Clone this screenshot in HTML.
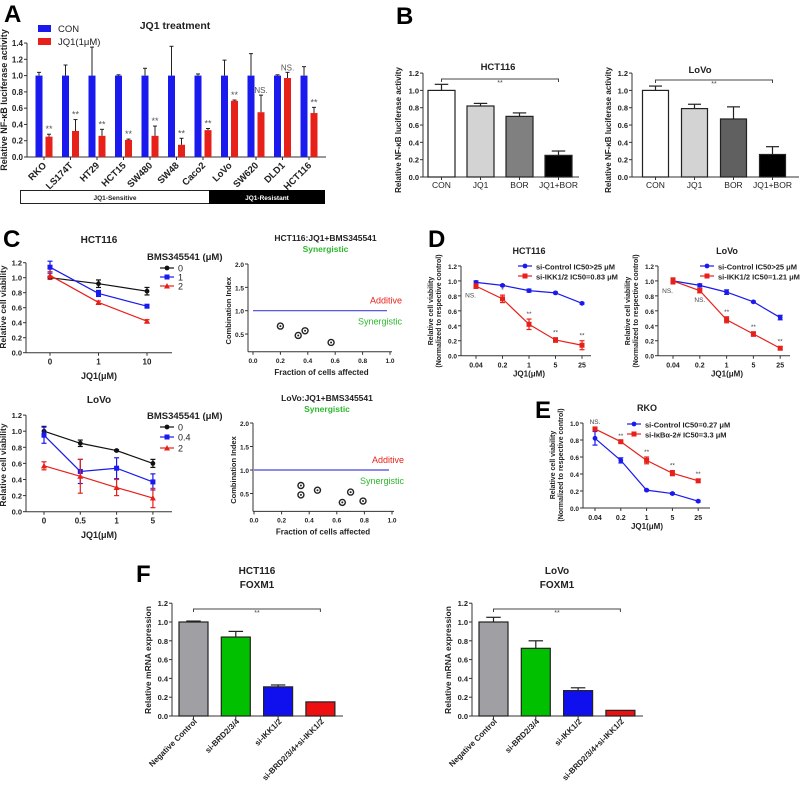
<!DOCTYPE html>
<html><head><meta charset="utf-8"><style>
html,body{margin:0;padding:0;background:#fff}
svg{display:block;font-family:"Liberation Sans",Arial,sans-serif}
</style></head><body>
<svg id="fig" width="800" height="791" viewBox="0 0 800 791" xmlns="http://www.w3.org/2000/svg"></svg>
<script>
// ---------- data ----------
const A_cats=["RKO","LS174T","HT29","HCT15","SW480","SW48","Caco2","LoVo","SW620","DLD1","HCT116"];
const A_con=[1,1,1,1,1,1,1,1,1,1,1];
const A_conErr=[0.04,0.13,0.35,0.01,0.09,0.36,0.02,0.19,0.27,0.01,0.11];
const A_jq1=[0.25,0.32,0.26,0.21,0.26,0.15,0.33,0.69,0.55,0.97,0.54];
const A_jq1Err=[0.03,0.14,0.08,0.01,0.12,0.08,0.02,0.01,0.21,0.07,0.07];
const A_sig=["**","**","**","**","**","**","**","**","NS.","NS.","**"];
const B_cats=["CON","JQ1","BOR","JQ1+BOR"];
const B_hct=[1.0,0.82,0.70,0.25];
const B_hctErr=[0.07,0.03,0.04,0.05];
const B_lovo=[1.0,0.79,0.67,0.26];
const B_lovoErr=[0.05,0.05,0.14,0.09];
const C1_x=["0","1","10"];
const C1_s0=[1.0,0.92,0.82], C1_e0=[0.02,0.05,0.05];
const C1_s1=[1.14,0.79,0.62], C1_e1=[0.08,0.04,0.01];
const C1_s2=[1.03,0.67,0.42], C1_e2=[0.05,0.02,0.02];
const C2_x=["0","0.5","1","5"];
const C2_s0=[1.0,0.85,0.76,0.60], C2_e0=[0.06,0.04,0.01,0.05];
const C2_s1=[0.95,0.50,0.54,0.37], C2_e1=[0.10,0.15,0.13,0.10];
const C2_s2=[0.57,0.44,0.30,0.17], C2_e2=[0.05,0.21,0.10,0.12];
const CI1_fa=[0.20,0.33,0.38,0.57], CI1_ci=[0.67,0.47,0.57,0.32];
const CI2_fa=[0.34,0.34,0.46,0.64,0.70,0.79], CI2_ci=[0.67,0.47,0.57,0.31,0.53,0.34];
const D_x=["0.04","0.2","1","5","25"];
const D1_ctrl=[0.98,0.94,0.87,0.84,0.70], D1_ctrlE=[0.02,0.01,0.02,0.01,0.01];
const D1_ikk=[0.93,0.76,0.42,0.21,0.14], D1_ikkE=[0.03,0.05,0.07,0.03,0.06];
const D1_sig=["NS.","*","**","**","**"];
const D2_ctrl=[1.0,0.94,0.85,0.72,0.51], D2_ctrlE=[0.03,0.02,0.03,0.01,0.03];
const D2_ikk=[1.0,0.87,0.48,0.29,0.10], D2_ikkE=[0.04,0.03,0.04,0.03,0.02];
const D2_sig=["NS.","NS.","**","**","**"];
const E_ctrl=[0.82,0.56,0.21,0.17,0.08], E_ctrlE=[0.08,0.03,0.01,0.01,0.01];
const E_ikb=[0.93,0.78,0.56,0.41,0.32], E_ikbE=[0.02,0.01,0.04,0.03,0.02];
const E_sig=["NS.","**","**","**","**"];
const F_cats=["Negative Control","si-BRD2/3/4","si-IKK1/2","si-BRD2/3/4+si-IKK1/2"];
const F_hct=[1.0,0.84,0.31,0.15], F_hctErr=[0.01,0.06,0.02,0.0];
const F_lovo=[1.0,0.72,0.27,0.06], F_lovoErr=[0.05,0.08,0.03,0.0];

// ---------- helpers ----------
const NS="http://www.w3.org/2000/svg";
const svg=document.getElementById('fig');
function mk(tag,a,p){const e=document.createElementNS(NS,tag);for(const k in a)e.setAttribute(k,a[k]);(p||svg).appendChild(e);return e;}
function tx(x,y,s,a){const e=mk('text',Object.assign({x:x,y:y,'font-size':9,fill:'#222'},a||{}));e.textContent=s;return e;}
function ln(x1,y1,x2,y2,c,w){return mk('line',{x1:x1,y1:y1,x2:x2,y2:y2,stroke:c||'#333','stroke-width':w||1});}
function fmt(v){return v.toFixed(1);}
function yAxis(x,y0,ppu,max,step,name,fs){
  const g=mk('g',{});
  
  
  g.appendChild(ln(x,y0,x,y0-max*ppu));
  for(let v=0;v<=max+1e-9;v+=step){
    const y=y0-v*ppu;
    g.appendChild(ln(x-3,y,x,y));
    g.appendChild(tx(x-4,y+3,fmt(v),{'text-anchor':'end','font-size':fs||7.5,'font-weight':'bold'}));
  }
  return g;
}
function title(x,y,s,name,a){const t=tx(x,y,s,Object.assign({'text-anchor':'middle','font-size':10,'font-weight':'bold'},a||{}));return t;}
function vlabel(x,y,s,name,fs){const t=tx(x,y,s,{'text-anchor':'middle','font-size':fs||9,'font-weight':'bold',transform:'rotate(-90 '+x+' '+y+')'});return t;}
function panelLetter(x,y,s){const t=tx(x,y,s,{'font-size':24,'font-weight':'bold',fill:'#000'});}

// ---------- Panel A ----------
panelLetter(4,22,"A");
(function(){
  const ax=27,y0=157,ppu=81.4;
  const ys=v=>y0-v*ppu, xs=i=>39+i*26.5;
  yAxis(ax,y0,ppu,1.4,0.2,'a-y-axis',8);
  ln(ax,y0,326,y0);
  vlabel(7,100,"Relative NF-κB luciferase activity",'a-y-axis-title',9);
  title(175,29,"JQ1 treatment",'a-title',{'font-size':10.5});
  A_cats.forEach((c,i)=>{
    const cx=xs(i);
    const b=mk('rect',{x:cx-3.5,y:ys(A_con[i]),width:7,height:y0-ys(A_con[i]),fill:'#1a1aee'});
    
    
    ln(cx,ys(A_con[i]),cx,ys(A_con[i]+A_conErr[i]),'#222');ln(cx-2,ys(A_con[i]+A_conErr[i]),cx+2,ys(A_con[i]+A_conErr[i]),'#222');
    const rx=cx+10;
    const r=mk('rect',{x:rx-3.5,y:ys(A_jq1[i]),width:7,height:y0-ys(A_jq1[i]),fill:'#e8201a'});
    
    
    const top=ys(A_jq1[i]+A_jq1Err[i]);
    ln(rx,ys(A_jq1[i]),rx,top,'#222');ln(rx-2,top,rx+2,top,'#222');
    tx(rx,top-2,A_sig[i],{'text-anchor':'middle','font-size':A_sig[i]=="**"?9:8,fill:'#555'});
    ln(cx+5,y0,cx+5,y0+3);
    const l=tx(cx+8,y0+9,c,{'text-anchor':'end','font-size':9.5,'font-weight':'bold',transform:'rotate(-45 '+(cx+8)+' '+(y0+9)+')'});
    
    
  });
  const lg1=mk('rect',{x:38,y:25,width:13,height:7,fill:'#1a1aee'});
  
  tx(58,32,"CON",{'font-size':9.5});
  const lg2=mk('rect',{x:38,y:38,width:13,height:7,fill:'#e8201a'});
  
  tx(58,45,"JQ1(1μM)",{'font-size':9.5});
  const s=mk('rect',{x:20.5,y:190.5,width:189,height:13,fill:'#fff',stroke:'#222'});
  
  tx(115,200,"JQ1-Sensitive",{'text-anchor':'middle','font-size':6.5,'font-weight':'bold'});
  const rr=mk('rect',{x:209.5,y:190.5,width:115,height:13,fill:'#000',stroke:'#000'});
  
  tx(267,200,"JQ1-Resistant",{'text-anchor':'middle','font-size':6.5,'font-weight':'bold',fill:'#fff'});
})();

// ---------- Panel B ----------
panelLetter(396,24,"B");
function barPanel(ax,axEnd,y0,ppu,x0,step,w,vals,errs,cats,fills,name,bracket,labFs,rotate,labY){
  yAxis(ax,y0,ppu,1.2,0.2,name+'-y-axis',7.5);
  ln(ax,y0,axEnd,y0);
  vals.forEach((v,i)=>{
    const cx=x0+i*step, y=y0-v*ppu;
    const b=mk('rect',{x:cx-w/2,y:y,width:w,height:y0-y,fill:fills[i],stroke:'#222','stroke-width':1.2});
    
    
    const t=y0-(v+errs[i])*ppu;
    if(errs[i]>0){ln(cx,y,cx,t,'#222',1.2);ln(cx-w/4,t,cx+w/4,t,'#222',1.2);}
    ln(cx,y0,cx,y0+3);
    let l;
    if(rotate){l=tx(cx+4,labY,cats[i],{'text-anchor':'end','font-size':labFs,'font-weight':'bold',transform:'rotate(-45 '+(cx+4)+' '+labY+')'});}
    else{l=tx(cx,labY,cats[i],{'text-anchor':'middle','font-size':labFs});}
    
    
  });
  const by=bracket[0],xa=x0,xb=x0+step*(vals.length-1);
  const br=mk('path',{d:'M'+xa+' '+(by+3)+'V'+by+'H'+xb+'V'+(by+3),fill:'none',stroke:'#444','stroke-width':1});
  
  
  tx((xa+xb)/2,by+6,"**",{'text-anchor':'middle','font-size':7,fill:'#444'});
}
barPanel(423,579,177,86.6,441.5,39,27,B_hct,B_hctErr,B_cats,['#fff','#d3d3d3','#808080','#000'],'b-hct116',[79],8.5,false,188);
title(498,70,"HCT116",'b-hct116-title',{'font-size':9.5});
vlabel(401,130,"Relative NF-κB luciferase activity",'b-hct116-y-title',8);
barPanel(632,799,177,86.6,655.5,39,26,B_lovo,B_lovoErr,B_cats,['#fff','#d3d3d3','#606060','#000'],'b-lovo',[80],8.5,false,188);
title(700,73,"LoVo",'b-lovo-title',{'font-size':9.5});
vlabel(611,130,"Relative NF-κB luciferase activity",'b-lovo-y-title',8);

// ---------- line chart helper ----------
function linePanel(ax,axEnd,y0,ppu,max,xpos,series,errs,colors,markers,name,fs){
  yAxis(ax,y0,ppu,max,0.2,name+'-y-axis',fs||7.5);
  ln(ax,y0,axEnd,y0);
  series.forEach((s,k)=>{
    const pts=s.map((v,i)=>[xpos(i),y0-v*ppu]);
    const p=mk('polyline',{points:pts.map(q=>q.join(',')).join(' '),fill:'none',stroke:colors[k],'stroke-width':1.2});
    
    
    s.forEach((v,i)=>{
      const x=xpos(i),e=errs[k][i];
      ln(x,y0-(v+e)*ppu,x,y0-(v-e)*ppu,colors[k],1.2);
      ln(x-2.5,y0-(v+e)*ppu,x+2.5,y0-(v+e)*ppu,colors[k],1.2);
      ln(x-2.5,y0-(v-e)*ppu,x+2.5,y0-(v-e)*ppu,colors[k],1.2);
      let m;
      if(markers[k]=='c') m=mk('circle',{cx:x,cy:y0-v*ppu,r:2.4,fill:colors[k]});
      else if(markers[k]=='t') m=mk('path',{d:'M'+(x-3)+' '+(y0-v*ppu+2.5)+'L'+x+' '+(y0-v*ppu-3)+'L'+(x+3)+' '+(y0-v*ppu+2.5)+'Z',fill:colors[k]});
      else m=mk('rect',{x:x-2.5,y:y0-v*ppu-2.5,width:5,height:5,fill:colors[k]});
      
      
    });
  });
}
function xTicks(xpos,labels,y0,fs,name){
  labels.forEach((l,i)=>{const x=xpos(i);ln(x,y0,x,y0+3);const t=tx(x,y0+12,l,{'text-anchor':'middle','font-size':fs,'font-weight':'bold'});});
}
function legendLine(x,y,col,mark,label,fs){
  ln(x,y,x+14,y,col,1.2);
  let m;
  if(mark=='c') m=mk('circle',{cx:x+7,cy:y,r:2.4,fill:col});
  else if(mark=='t') m=mk('path',{d:'M'+(x+4)+' '+(y+2.5)+'L'+(x+7)+' '+(y-3)+'L'+(x+10)+' '+(y+2.5)+'Z',fill:col});
  else m=mk('rect',{x:x+4.5,y:y-2.5,width:5,height:5,fill:col});
  
  
  const t=tx(x+18,y+3.5,label,{'font-size':fs||9});
  
  
  return t;
}

// ---------- Panel C ----------
panelLetter(3,247,"C");
(function(){
  const x1=i=>50+i*48.5;
  linePanel(26,172,352.7,75,1.2,x1,[C1_s0,C1_s1,C1_s2],[C1_e0,C1_e1,C1_e2],['#111','#1a1aee','#e8201a'],['c','s','t'],'c-hct116');
  xTicks(x1,C1_x,352.7,8,'c-hct116-x-label');
  title(99,379,"JQ1(μM)",'c-hct116-x-title',{'font-size':9});
  title(99,243,"HCT116",'c-hct116-title');
  vlabel(6,307,"Relative cell viability",'c-hct116-y-title',8.5);
  tx(147,260,"BMS345541 (μM)",{'font-size':9.5,'font-weight':'bold'});
  legendLine(160,268,'#111','c',"0");legendLine(160,277,'#1a1aee','s',"1");legendLine(160,286,'#e8201a','t',"2");

  const x2=i=>44+i*36.3;
  linePanel(26,172,511.7,80.5,1.2,x2,[C2_s0,C2_s1,C2_s2],[C2_e0,C2_e1,C2_e2],['#111','#1a1aee','#e8201a'],['c','s','t'],'c-lovo');
  xTicks(x2,C2_x,511.7,8,'c-lovo-x-label');
  title(99,538,"JQ1(μM)",'c-lovo-x-title',{'font-size':9});
  title(99,403,"LoVo",'c-lovo-title');
  vlabel(6,465,"Relative cell viability",'c-lovo-y-title',8.5);
  tx(147,419,"BMS345541 (μM)",{'font-size':9.5,'font-weight':'bold'});
  legendLine(160,427,'#111','c',"0");legendLine(160,437,'#1a1aee','s',"0.4");legendLine(160,448,'#e8201a','t',"2");
})();

function ciPanel(ax,y0,y2,x0,x1,fa,ci,name,t1,ty){
  const ppu=(y0-y2)/2.0;
  const ys=v=>y0-v*ppu, xs=v=>x0+v*(x1-x0);
  const yb=ys(0.12);
  ln(ax,yb,ax,ys(2.0));ln(ax,yb,x1+2,yb);
  [0.5,1.0,1.5,2.0].forEach(v=>{ln(ax-3,ys(v),ax,ys(v));tx(ax-4,ys(v)+3,v.toFixed(1),{'text-anchor':'end','font-size':6.5,'font-weight':'bold'});});
  [0,0.2,0.4,0.6,0.8,1.0].forEach(v=>{ln(xs(v),yb,xs(v),yb+3);tx(xs(v),yb+11,v.toFixed(1),{'text-anchor':'middle','font-size':6.5,'font-weight':'bold'});});
  const l=ln(x0,ys(1),x1-3,ys(1),'#4444dd',1.2);
  
  
  fa.forEach((f,i)=>{
    const c=mk('circle',{cx:xs(f),cy:ys(ci[i]),r:3,fill:'#fff',stroke:'#222','stroke-width':1.4});
    
    
    mk('circle',{cx:xs(f),cy:ys(ci[i]),r:1,fill:'#222'});
  });
  tx(x1+12,ys(1)-7,"Additive",{'text-anchor':'end','font-size':9,fill:'#e8201a'});
  tx(x1+12,ys(1)+14,"Synergistic",{'text-anchor':'end','font-size':9,fill:'#2db82d'});
  title((x0+x1)/2+4,ty,t1,name+'-title',{'font-size':8.5});
  title((x0+x1)/2+4,ty+11,"Synergistic",name+'-subtitle',{'font-size':8.5,fill:'#2db82d'});
  title((x0+x1)/2,yb+23,"Fraction of cells affected",name+'-x-title',{'font-size':8});
  vlabel(ax-17,ys(1.0),"Combination Index",name+'-y-title',7.5);
}
ciPanel(248,357.4,264,253,390,CI1_fa,CI1_ci,'c-ci-hct116',"HCT116:JQ1+BMS345541",241);
ciPanel(253,517,423,254,392,CI2_fa,CI2_ci,'c-ci-lovo',"LoVo:JQ1+BMS345541",401);

// ---------- Panel D ----------
panelLetter(428,247,"D");
function dosePanel(ax,axEnd,y0,ppu,max,xpos,a,aE,b,bE,sig,name,cx,ty,leg,legX,legY,sigBelowFirst){
  linePanel(ax,axEnd,y0,ppu,max,xpos,[a,b],[aE,bE],['#1a1aee','#e8201a'],['c','s'],name,6.5);
  xTicks(xpos,D_x,y0,7,name+'-x-label');
  title(cx,y0+21,"JQ1(μM)",name+'-x-title',{'font-size':8});
  title(cx,ty,leg[2],name+'-title',{'font-size':9});
  sig.forEach((s,i)=>{
    const y=(s=="NS."&&(i==0?sigBelowFirst:true))? y0-(b[i]-bE[i])*ppu+9 : y0-(b[i]+bE[i])*ppu-3;
    tx(xpos(i),y,s,{'text-anchor':i==0?'end':'middle','font-size':6.5,fill:'#444'});
  });
  legendLine(legX,legY,'#1a1aee','c',leg[0],7.5).setAttribute('font-weight','bold');
  legendLine(legX,legY+10,'#e8201a','s',leg[1],7.5).setAttribute('font-weight','bold');
}
(function(){
  const x1=i=>476+i*26.5;
  dosePanel(461,591,355.7,74.8,1.2,x1,D1_ctrl,D1_ctrlE,D1_ikk,D1_ikkE,D1_sig,'d-hct116',529,254,["si-Control  IC50>25  μM","si-IKK1/2    IC50=0.83 μM","HCT116"],518,266,true);
  vlabel(433,311,"Relative cell viability",'d-hct116-y-title',7);
  vlabel(441,311,"(Normalized to respective control)",'d-hct116-y-title2',7);
  const x2=i=>673+i*26.8;
  dosePanel(658,790,355.7,74.8,1.2,x2,D2_ctrl,D2_ctrlE,D2_ikk,D2_ikkE,D2_sig,'d-lovo',727,254,["si-Control   IC50>25 μM","si-IKK1/2     IC50=1.21 μM","LoVo"],700,266,true);
  vlabel(630,311,"Relative cell viability",'d-lovo-y-title',7);
  vlabel(638,311,"(Normalized to respective control)",'d-lovo-y-title2',7);
})();

// ---------- Panel E ----------
panelLetter(535,418,"E");
(function(){
  const xs=i=>595+i*25.8;
  dosePanel(583,710,508,85,1.0,xs,E_ctrl,E_ctrlE,E_ikb,E_ikbE,["","**","**","**","**"],'e-rko',647,411,["si-Control  IC50=0.27 μM","si-IκBα-2#  IC50=3.3 μM","RKO"],627,424,false);
  tx(595,424,"NS.",{'text-anchor':'middle','font-size':6.5,fill:'#444'});
  vlabel(555,465,"Relative cell viability",'e-y-title',7);
  vlabel(563,465,"(Normalized to respective control)",'e-y-title2',7);
})();

// ---------- Panel F ----------
panelLetter(136,582,"F");
barPanel(172,343,716,94,193.5,42.3,29,F_hct,F_hctErr,F_cats,['#a0a0a4','#00c000','#1010ee','#ee1010'],'f-hct116',[609],8,true,722);
title(257,574,"HCT116",'f-hct116-title');
title(257,588,"FOXM1",'f-hct116-subtitle');
vlabel(151,660,"Relative mRNA expression",'f-hct116-y-title',8.5);
barPanel(472,643,716,94,493.5,42.3,29,F_lovo,F_lovoErr,F_cats,['#a0a0a4','#00c000','#1010ee','#ee1010'],'f-lovo',[609],8,true,722);
title(557,574,"LoVo",'f-lovo-title');
title(557,588,"FOXM1",'f-lovo-subtitle');
vlabel(451,660,"Relative mRNA expression",'f-lovo-y-title',8.5);
</script>
</body></html>
